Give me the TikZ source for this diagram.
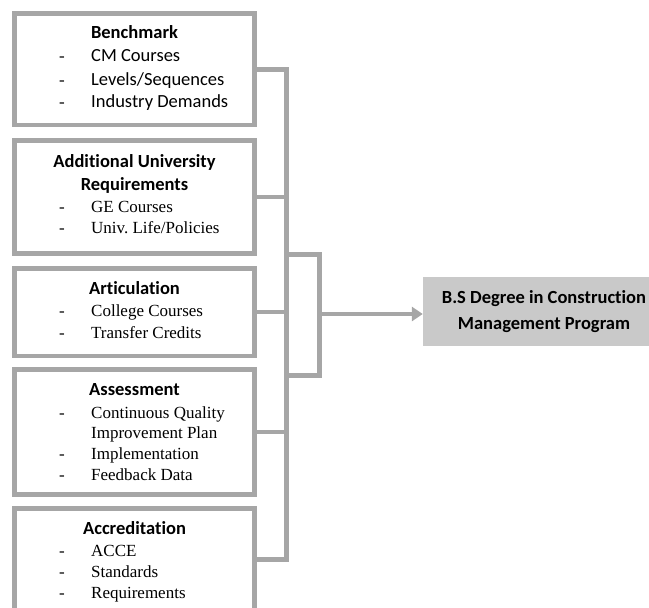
\documentclass[tikz,border=0pt]{standalone}
\usepackage{fontspec}
\setmainfont{Liberation Serif}
\newfontfamily\sansf[Ligatures=NoCommon]{Carlito}
\usetikzlibrary{arrows.meta}
\definecolor{linegray}{HTML}{A6A6A6}
\definecolor{fillgray}{HTML}{C9C9C9}
\frenchspacing
\tikzset{
  box/.style={draw=linegray, line width=4.5pt, minimum width=240pt, inner sep=0pt},
  link/.style={draw=linegray, line width=4.5pt, line join=miter},
  head/.style={anchor=base, inner sep=0pt, font=\sansf\bfseries\fontsize{18.5}{22}\selectfont},
  itm/.style={anchor=base west, inner sep=0pt, font=\fontsize{17}{21}\selectfont},
  itms/.style={anchor=base west, inner sep=0pt, font=\sansf\fontsize{18.5}{22}\selectfont},
  dsh/.style={anchor=base west, inner sep=0pt, font=\fontsize{17}{21}\selectfont},
}
\begin{document}
\begin{tikzpicture}[x=1pt, y=-1pt]
\useasboundingbox (0,0) rectangle (649,608);
\clip (0,0) rectangle (649,608);

% input boxes
\node[box, minimum height=111.5pt] (b1) at (134.5,69.25) {};
\node[box, minimum height=113pt]   (b2) at (134.5,197) {};
\node[box, minimum height=87.5pt]  (b3) at (134.5,312.05) {};
\node[box, minimum height=124.8pt] (b4) at (134.5,432.1) {};
\node[box, minimum height=102.4pt] (b5) at (134.5,559.5) {};

% result box
\node[fill=fillgray, minimum width=241pt, minimum height=68.7pt, inner sep=0pt] (res) at (543.5,311.65) {};
\node[head] (r1) at (544,303.3) {B.S Degree in Construction};
\node[head] (r2) at (544,329.3) {Management Program};

% Benchmark
\node[head] (h1) at (134.5,38.3) {Benchmark};
\node[dsh] (d11) at (59,61.7) {-};
\node[itms] (t11) at (91,61.7) {CM Courses};
\node[dsh] (d12) at (59,85) {-};
\node[itms] (t12) at (91,85) {Levels/Sequences};
\node[dsh] (d13) at (59,107.3) {-};
\node[itms] (t13) at (91,107.3) {Industry Demands};

% Additional University Requirements
\node[head] (h2a) at (134.5,167.5) {Additional University};
\node[head] (h2b) at (134.5,190) {Requirements};
\node[dsh] (d21) at (59,212.7) {-};
\node[itm] (t21) at (91,212.7) {GE Courses};
\node[dsh] (d22) at (59,233.3) {-};
\node[itm] (t22) at (91,233.3) {Univ. Life/Policies};

% Articulation
\node[head] (h3) at (134.5,294) {Articulation};
\node[dsh] (d31) at (59,316.7) {-};
\node[itm] (t31) at (91,316.7) {College Courses};
\node[dsh] (d32) at (59,338.3) {-};
\node[itm] (t32) at (91,338.3) {Transfer Credits};

% Assessment
\node[head] (h4) at (134.5,395.7) {Assessment};
\node[dsh] (d41) at (59,418.3) {-};
\node[itm] (t41) at (91,418.3) {Continuous Quality};
\node[itm] (t41b) at (91,438.3) {Improvement Plan};
\node[dsh] (d42) at (59,459.3) {-};
\node[itm] (t42) at (91,459.3) {Implementation};
\node[dsh] (d43) at (59,480.7) {-};
\node[itm] (t43) at (91,480.7) {Feedback Data};

% Accreditation
\node[head] (h5) at (134.5,534) {Accreditation};
\node[dsh] (d51) at (59,556.7) {-};
\node[itm] (t51) at (91,556.7) {ACCE};
\node[dsh] (d52) at (59,577.7) {-};
\node[itm] (t52) at (91,577.7) {Standards};
\node[dsh] (d53) at (59,598.3) {-};
\node[itm] (t53) at (91,598.3) {Requirements};

% bus and bracket coordinates
\coordinate (bus) at (286.5,0);
\coordinate (bt) at (286.5,254.5);
\coordinate (bb) at (286.5,375.5);
\coordinate (brk) at (319.5,314);

% connectors into the bus
\draw[link] (b1.east) -- (b1.east -| bus) -- (b5.east -| bus) -- (b5.east);
\draw[link] (b2.east) -- (b2.east -| bus);
\draw[link] (b3.east) -- (b3.east -| bus);
\draw[link] (b4.east) -- (b4.east -| bus);

% bracket and arrow to the result
\draw[link] (bt) -- (bt -| brk) -- (bb -| brk) -- (bb);
\draw[link, -{Triangle[length=11pt, width=14pt]}] (brk) -- (brk -| res.west);
\end{tikzpicture}
\end{document}
